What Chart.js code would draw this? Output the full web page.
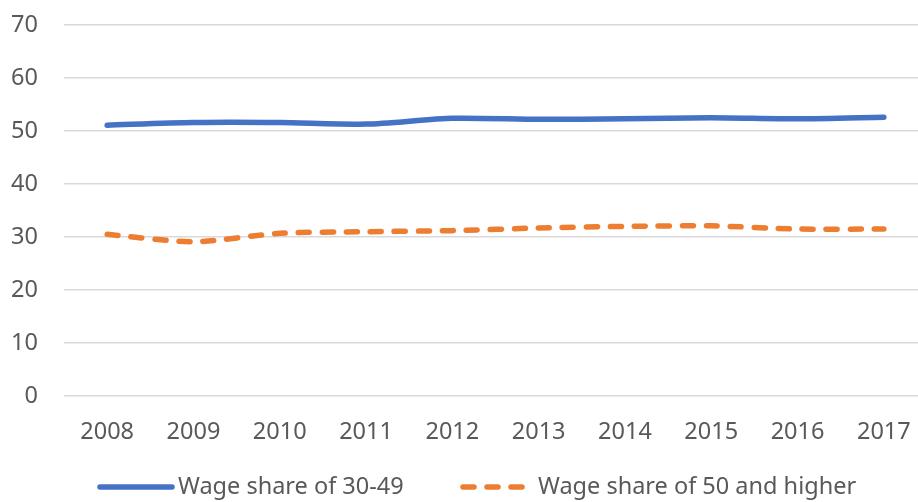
<!DOCTYPE html>
<html>
<head>
<meta charset="utf-8">
<script src="https://cdn.jsdelivr.net/npm/chart.js@4/dist/chart.umd.min.js"></script>
<style>
  html, body { margin: 0; padding: 0; background: #fff; overflow: hidden; }
  #wrap { position: relative; width: 927px; height: 502px; }
</style>
</head>
<body>
<div id="wrap"><canvas id="chart"></canvas></div>
<script>
'use strict';

const years = ['2008', '2009', '2010', '2011', '2012', '2013', '2014', '2015', '2016', '2017'];
const share30to49 = [51.1, 51.6, 51.6, 51.3, 52.4, 52.2, 52.3, 52.5, 52.3, 52.6];
const share50plus = [30.5, 29.1, 30.7, 31.0, 31.2, 31.7, 32.0, 32.1, 31.5, 31.5];
const yTicks = [0, 10, 20, 30, 40, 50, 60, 70];

const FONT = '"Noto Sans", "Open Sans", sans-serif';
const TEXT = '#595959';
const FONT_SIZE = 23.5;

// legend drawn by hand so each sample can have its own length (like the Excel original)
const bottomLegend = {
  id: 'bottomLegend',
  afterDraw(chart) {
    const ctx = chart.ctx;
    const y = 487;
    const samples = [
      { x: 100, len: 72, textX: 178 },
      { x: 463, len: 60, textX: 538 }
    ];

    ctx.save();
    ctx.font = `${FONT_SIZE}px ${FONT}`;
    ctx.textBaseline = 'middle';
    chart.data.datasets.forEach((ds, i) => {
      const s = samples[i];
      ctx.strokeStyle = ds.borderColor;
      ctx.lineWidth = ds.borderWidth;
      ctx.lineCap = 'round';
      ctx.setLineDash(ds.borderDash || []);
      ctx.beginPath();
      ctx.moveTo(s.x, y);
      ctx.lineTo(s.x + s.len, y);
      ctx.stroke();
      ctx.setLineDash([]);
      ctx.fillStyle = TEXT;
      ctx.fillText(ds.label, s.textX, y);
    });
    ctx.restore();
  }
};

new Chart(document.getElementById('chart'), {
  type: 'line',
  data: {
    labels: years,
    datasets: [
      {
        label: 'Wage share of 30-49',
        data: share30to49,
        borderColor: '#4472C4',
        backgroundColor: '#4472C4',
        borderWidth: 5.5,
        borderCapStyle: 'round',
        pointRadius: 0,
        tension: 0.25
      },
      {
        label: 'Wage share of 50 and higher',
        data: share50plus,
        borderColor: '#ED7D31',
        backgroundColor: '#ED7D31',
        borderWidth: 5.5,
        borderDash: [11, 13],
        borderCapStyle: 'round',
        pointRadius: 0,
        tension: 0.25
      }
    ]
  },
  plugins: [bottomLegend],
  options: {
    responsive: true,
    maintainAspectRatio: false,
    animation: false,
    layout: { padding: { top: 25, right: 0, left: 0, bottom: 46 } },
    plugins: {
      tooltip: { enabled: false },
      legend: { display: false }
    },
    scales: {
      x: {
        offset: true,
        grid: { display: false },
        border: { display: false },
        ticks: { color: TEXT, font: { family: FONT, size: FONT_SIZE }, padding: 14 },
        afterFit(scale) { scale.height = 60; }
      },
      y: {
        min: 0,
        max: 70,
        afterBuildTicks(scale) { scale.ticks = yTicks.map((v) => ({ value: v })); },
        // invisible tick marks push the labels away from the grid without padding the top
        grid: { color: '#D9D9D9', lineWidth: 1.5, drawTicks: true, tickLength: 26, tickColor: 'rgba(0,0,0,0)' },
        border: { display: false },
        ticks: { color: TEXT, font: { family: FONT, size: FONT_SIZE }, padding: 0 },
        afterFit(scale) { scale.width = 64; }
      }
    }
  }
});
</script>
</body>
</html>
